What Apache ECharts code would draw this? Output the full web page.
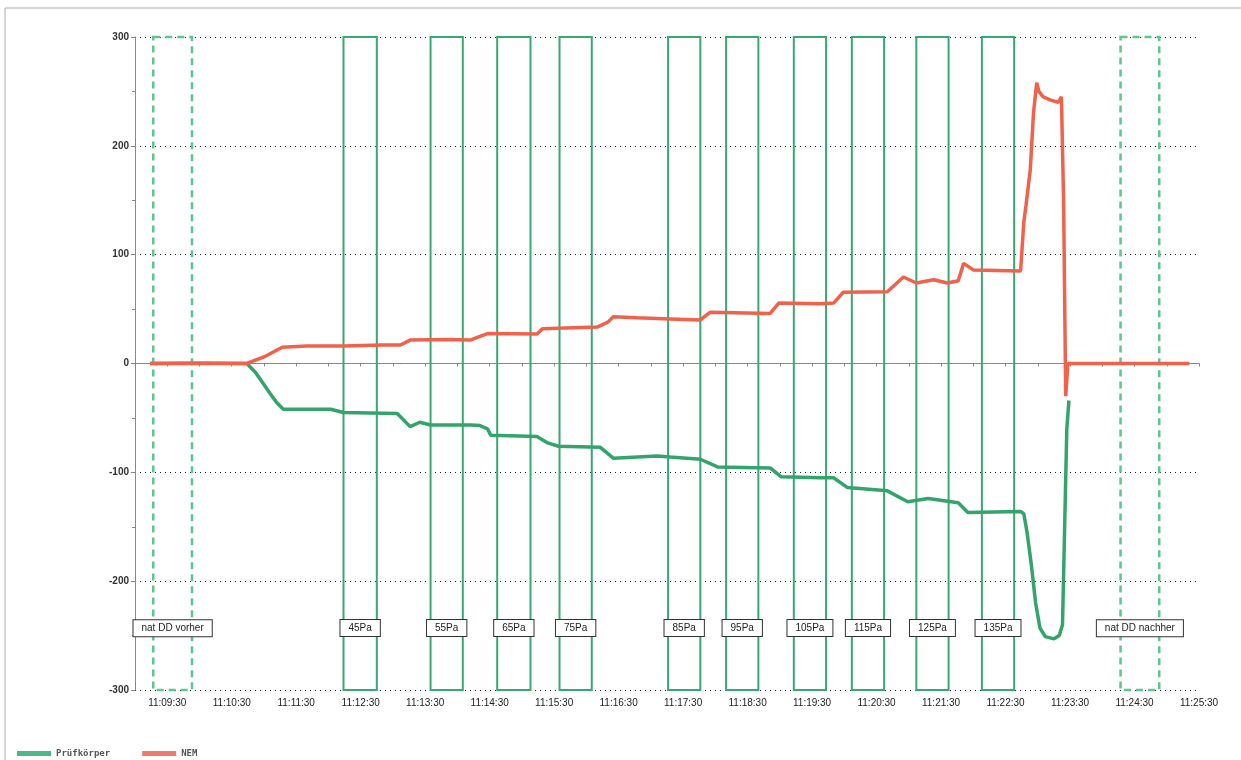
<!DOCTYPE html>
<html>
<head>
<meta charset="utf-8">
<script src="https://cdn.jsdelivr.net/npm/echarts@6/dist/echarts.min.js"></script>
<style>
html,body{margin:0;padding:0;background:#fff;}
#chart{width:1241px;height:760px;}
</style>
</head>
<body>
<div id="chart"></div>
<script>
// time in seconds since 11:09:00
const BASE_MIN = 9; // 11:09:00
const xMin = 0, xMax = 990;
const yMin = -300, yMax = 300;

// Prüfkörper (green)
const pruefT = [14,104,112,119,126,132,138,182,194,244,256,265,275,312,321,328,331,374,384,394,433,445,486,498,526,542,591,601,638,650,663,700,719,738,766,775,824,827,830,834,838,842,847,855,860,863,865,867,869];
const pruefV = [0,0,-8,-18,-28,-36,-42,-42,-45,-46,-58,-54,-56.5,-56.5,-57,-60,-66,-67,-73,-76,-77,-87,-85,-86,-88,-95,-96,-104,-105,-105,-114,-117,-127,-124,-128,-137,-136,-138,-155,-185,-220,-243,-251,-253,-250,-240,-150,-60,-34];

// NEM (red)
const nemT = [14,60,104,120,137,160,194,230,247,256,290,312,321,328,374,379,430,440,445,467,498,526,535,591,599,638,650,659,700,715,727,743,756,766,771,780,824,827,829,833,836,839,841,845,852,859,862,864,866,868,900,981];
const nemV = [0,0.5,0,6,15,16,16,17,17,21.5,22,21.5,25,27.5,27,32,33.5,38,43,42,41,40,47,46,55.5,55,55.5,65.5,66,79.5,74,77,74,76,92,86,85,130,145,178,230,258,250,245,242,240,245,150,-30,0,0,0];

// pressure step windows
const windowLabels = ['nat DD vorher','45Pa','55Pa','65Pa','75Pa','85Pa','95Pa','105Pa','115Pa','125Pa','135Pa','nat DD nachher'];
const windowStart = [17,194,275,337,395,496,550,613,667,727,788,917];
const windowEnd   = [53,225,305,368,425,526,580,643,697,757,818,953];
const windowDashed = [true,false,false,false,false,false,false,false,false,false,false,true];

// tick values
const yTicks = [-300,-200,-100,0,100,200,300];
const xLabelValues = [30,90,150,210,270,330,390,450,510,570,630,690,750,810,870,930,990];
const xTickValues = [];
for (let v = xMin; v <= xMax; v += 30) xTickValues.push(v);

function fmtTime(t) {
  const m = BASE_MIN + Math.floor(t / 60);
  const s = Math.round(t % 60);
  return '11:' + String(m).padStart(2,'0') + ':' + String(s).padStart(2,'0');
}

const pruefData = pruefT.map((t,i)=>[t,pruefV[i]]);
const nemData = nemT.map((t,i)=>[t,nemV[i]]);

const areaData = windowLabels.map((lab,i)=>[
  {
    name: lab,
    xAxis: windowStart[i], yAxis: yMax,
    itemStyle: {
      color: 'rgba(0,0,0,0)',
      borderColor: windowDashed[i] ? '#5ec690' : '#3aa872',
      borderWidth: windowDashed[i] ? 2.5 : 2,
      borderType: windowDashed[i] ? [7,5] : 'solid'
    }
  },
  { xAxis: windowEnd[i], yAxis: yMin }
]);

const chart = echarts.init(document.getElementById('chart'), null, {renderer:'canvas'});
chart.setOption({
  animation: false,
  backgroundColor: '#fff',
  textStyle: {fontFamily: 'Liberation Sans'},
  grid: {left: 135, right: 42, top: 37, bottom: 70, containLabel: false},
  legend: {
    left: 12, top: 744,
    icon: 'rect', itemWidth: 34, itemHeight: 5, itemGap: 32,
    textStyle: {fontFamily: 'DejaVu Sans Mono', fontSize: 9, fontWeight: 'bold', color: '#555'},
    data: ['Prüfkörper','NEM']
  },
  xAxis: {
    type: 'value', min: xMin, max: xMax,
    axisLine: {show: true, lineStyle: {color: '#888', width: 1}},
    axisTick: {show: true, length: 3, customValues: xTickValues, lineStyle: {color: '#888'}},
    axisLabel: {customValues: xLabelValues, formatter: fmtTime, fontSize: 10, color: '#222', margin: 8},
    splitLine: {show: false}
  },
  yAxis: {
    type: 'value', min: yMin, max: yMax, interval: 100,
    axisLine: {show: true, lineStyle: {color: '#888', width: 1}},
    axisTick: {show: true, length: 4, lineStyle: {color: '#888'}},
    minorTick: {show: true, splitNumber: 2, length: 3, lineStyle: {color: '#888'}},
    axisLabel: {fontSize: 10, color: '#333', margin: 6, fontWeight: 'bold'},
    splitLine: {show: true, lineStyle: {color: '#222', width: 1, type: [1,4]}}
  },
  graphic: [
    {type: 'line', shape: {x1: 5, y1: 8, x2: 1241, y2: 8}, style: {stroke: '#aaa', lineWidth: 1}},
    {type: 'line', shape: {x1: 5, y1: 8, x2: 5, y2: 760}, style: {stroke: '#aaa', lineWidth: 1}}
  ],
  series: [
    {
      name: 'Prüfkörper', type: 'line', data: pruefData,
      showSymbol: false, smooth: false,
      lineStyle: {color: '#33a56c', width: 3.5},
      itemStyle: {color: '#4cb884'},
      z: 3,
      markArea: {
        silent: true,
        z: 1,
        label: {
          show: true, position: 'insideBottom', distance: 55,
          color: '#222', fontSize: 10,
          backgroundColor: '#fff', borderColor: '#333', borderWidth: 1,
          padding: [3,8]
        },
        data: areaData
      }
    },
    {
      name: 'NEM', type: 'line', data: nemData,
      showSymbol: false, smooth: false,
      lineStyle: {color: '#f0624c', width: 3.5},
      itemStyle: {color: '#f27a6c'},
      z: 4
    }
  ]
});
</script>
</body>
</html>
